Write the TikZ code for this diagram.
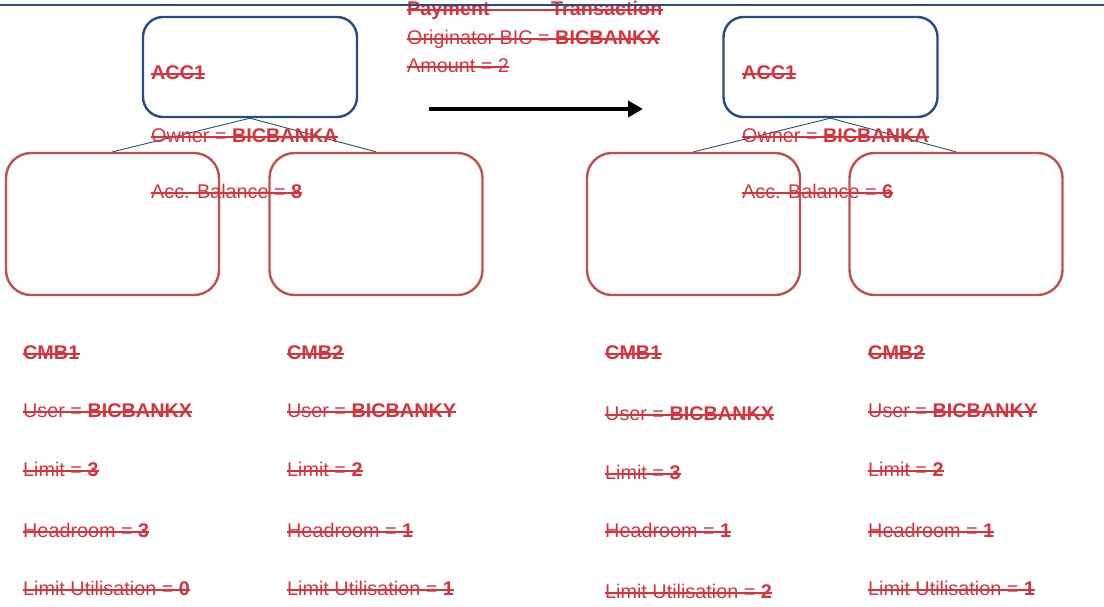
\documentclass[tikz,border=0pt]{standalone}
\usepackage{fontspec}
\setmainfont{Liberation Sans}
\usepackage{tikz}
\usetikzlibrary{positioning, arrows.meta}
\tikzstyle{diagram} = [x = 1pt, y = -1pt]
\definecolor{accBlue}{RGB}{38,76,128}
\definecolor{cmbRed}{RGB}{192,80,77}
\definecolor{labelRed}{RGB}{214,52,60}
\tikzstyle{accBox} = [draw=accBlue, line width=2.4pt, rounded corners=20pt, minimum width=214pt, minimum height=100pt]
\tikzstyle{cmbBox} = [draw=cmbRed, line width=2.4pt, rounded corners=25pt, minimum width=213pt, minimum height=142pt]
\tikzstyle{link} = [draw=accBlue, line width=0.9pt]
\tikzstyle{strikeLine} = [draw=labelRed, line width=1.7pt]
\tikzstyle{labelText} = [text=labelRed, anchor=base west, inner sep=0pt, font=\fontsize{19.8}{24}\selectfont,
  append after command={([yshift=5pt]\tikzlastnode.base west) edge [strikeLine] ([yshift=5pt]\tikzlastnode.base east)}]
\tikzstyle{transferArrow} = [line width=4.5pt, -{Triangle[length=15pt, width=16pt]}]
\newcommand{\accountBoxes}[4]{
  \node [accBox] (#1) at (#2,67) {};
  \node [cmbBox] (#1Cmb1) at (#3,224) {};
  \node [cmbBox] (#1Cmb2) at (#4,224) {};
  \draw [link] (#1.south) -- (#1Cmb1.north);
  \draw [link] (#1.south) -- (#1Cmb2.north);
}
\newcommand{\accountText}[3]{
  \node [labelText] (#1Name) at (#2,79) {\textbf{ACC1}};
  \node [labelText] (#1Owner) at (#2,142) {Owner = \textbf{BICBANKA}};
  \node [labelText] (#1Balance) at (#2,198) {Acc. Balance = \textbf{#3}};
}
\newcommand{\cmbColumn}[8]{
  \node [labelText] (#1Title) at (#2,359) {\textbf{#3}};
  \node [labelText] (#1User) at (#2,417 + #8) {User = \textbf{#4}};
  \node [labelText] (#1Limit) at (#2,476 + #8) {Limit = \textbf{#5}};
  \node [labelText] (#1Headroom) at (#2,537) {Headroom = \textbf{#6}};
  \node [labelText] (#1Utilisation) at (#2,595 + #8) {Limit Utilisation = \textbf{#7}};
}

\begin{document}
\begin{tikzpicture}[diagram]
  \useasboundingbox (0,0) rectangle (1104,606);
  % before and after
  \accountBoxes{before}{250}{112.5}{376}
  \accountBoxes{after}{830.5}{693.5}{956}
  % payment
  \node [labelText] (paymentTitle) at (407,15) {\textbf{Payment}\hspace{61.5pt}\textbf{Transaction}};
  \node [labelText] (paymentBic) at (407,44) {Originator BIC = \textbf{BICBANKX}};
  \node [labelText] (paymentAmount) at (407,72) {Amount = 2};
  \coordinate (arrowStart) at (429,109);
  \coordinate (arrowEnd) at (643,109);
  \draw [transferArrow] (arrowStart) -- (arrowEnd);
  \draw [accBlue, line width=2.8pt] (0,5) -- (1104,5);
  \accountText{before}{151}{8}
  \accountText{after}{742}{6}
  \cmbColumn{beforeOne}{23}{CMB1}{BICBANKX}{3}{3}{0}{0}
  \cmbColumn{beforeTwo}{287}{CMB2}{BICBANKY}{2}{1}{1}{0}
  \cmbColumn{afterOne}{605}{CMB1}{BICBANKX}{3}{1}{2}{3}
  \cmbColumn{afterTwo}{868}{CMB2}{BICBANKY}{2}{1}{1}{0}
\end{tikzpicture}
\end{document}
